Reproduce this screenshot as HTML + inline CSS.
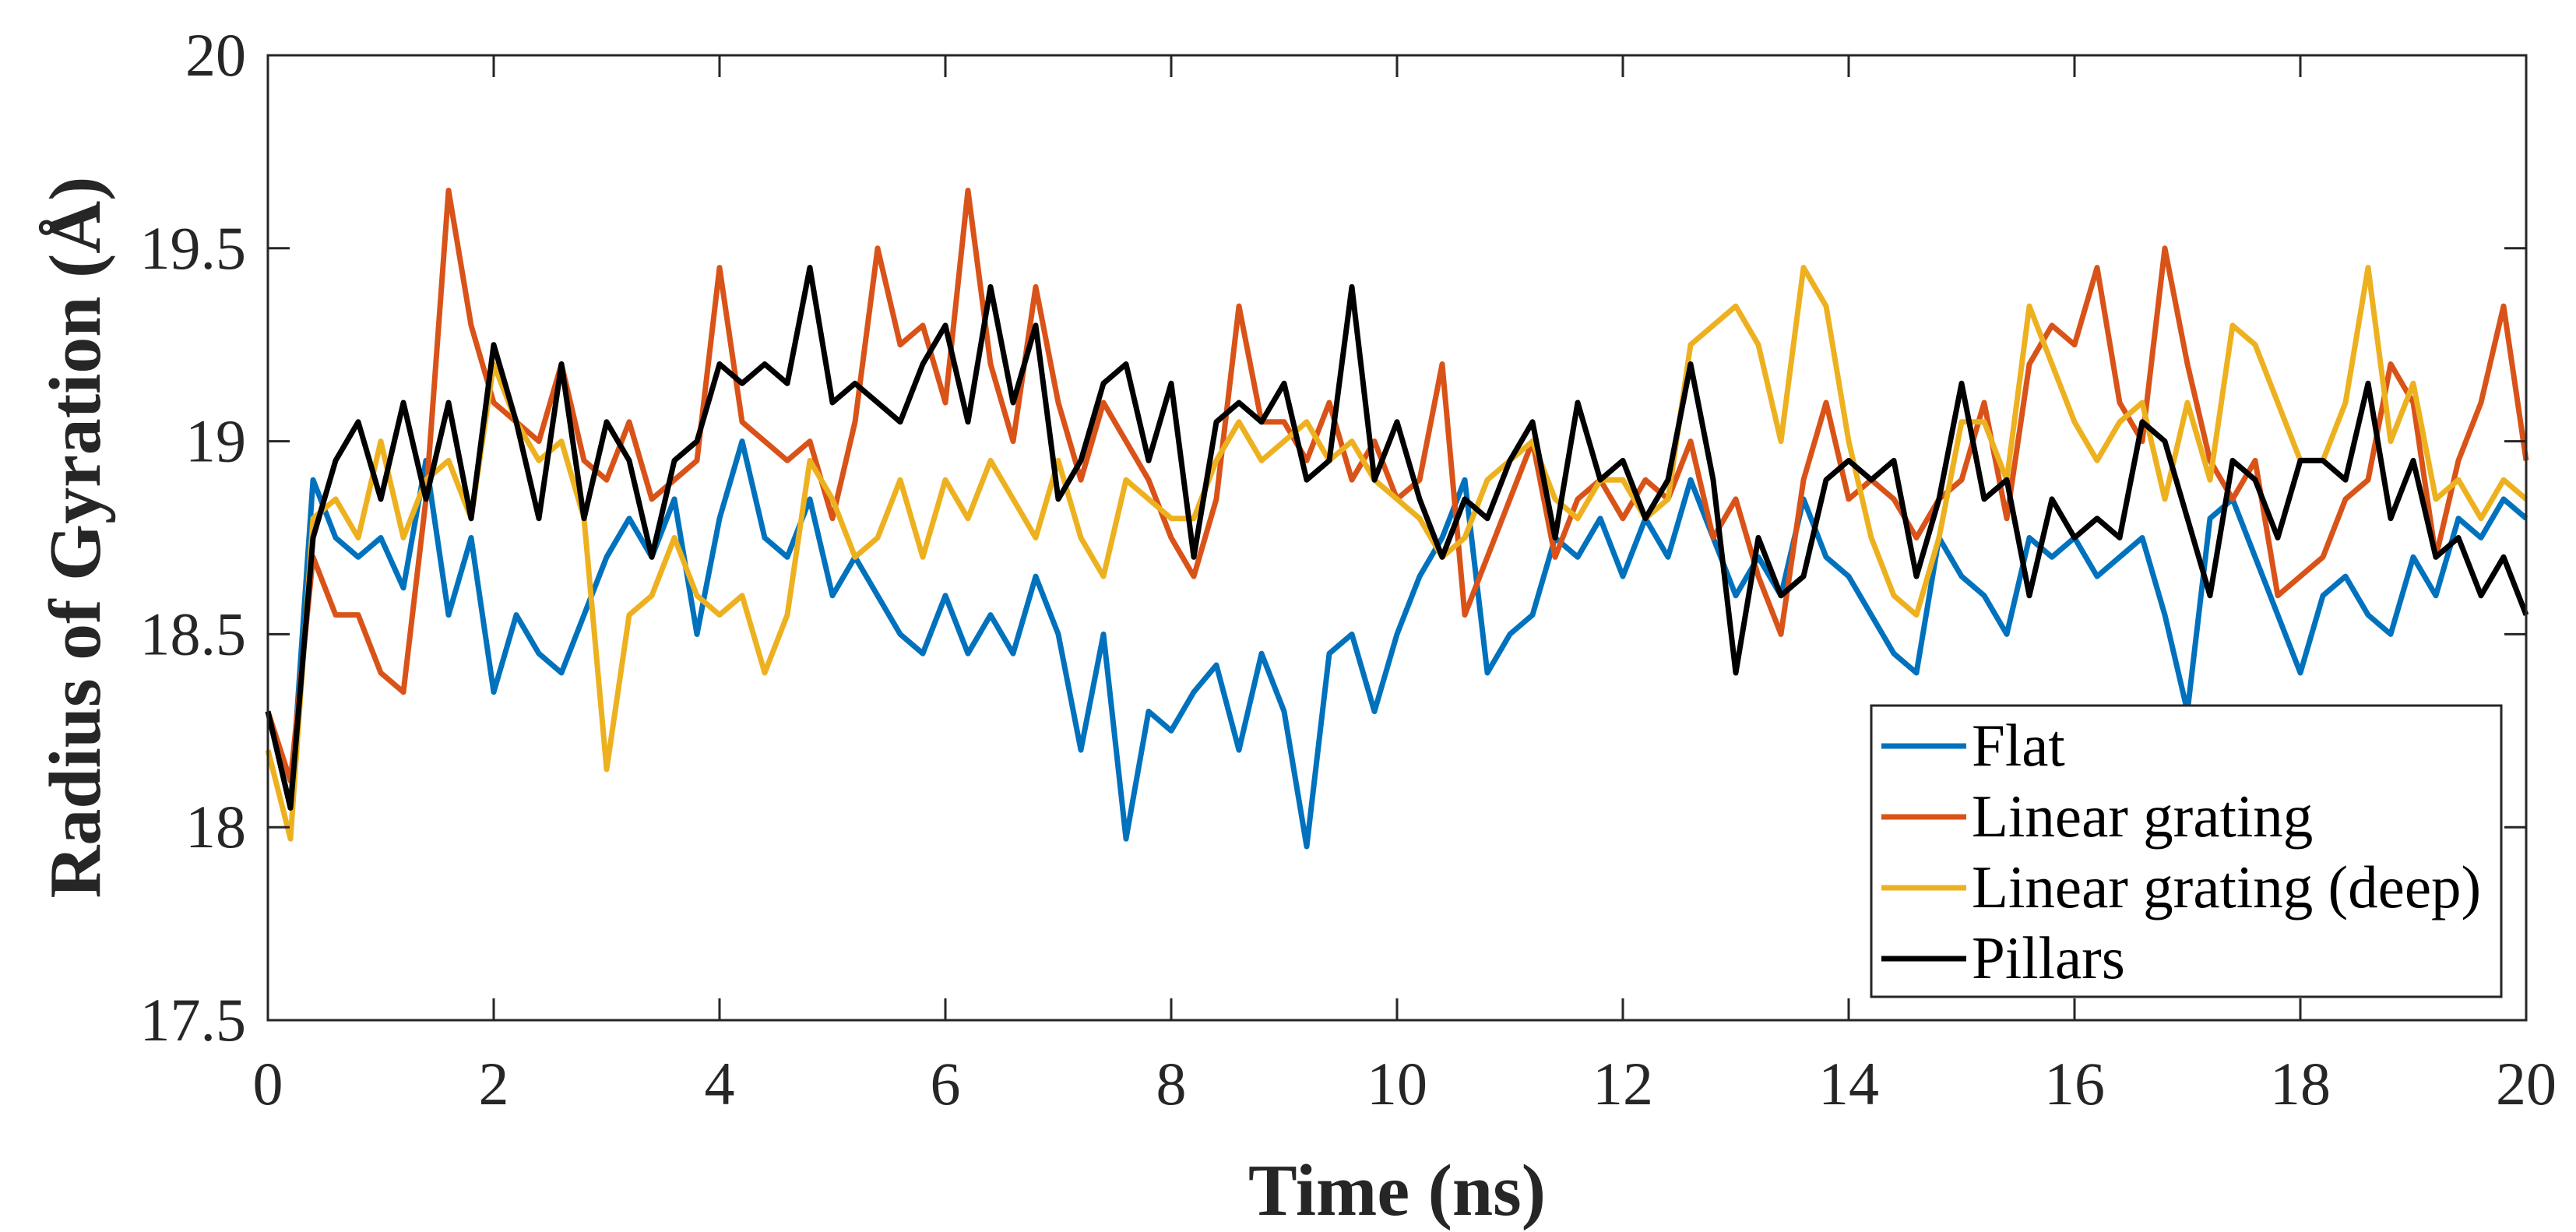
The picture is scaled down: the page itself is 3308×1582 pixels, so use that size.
<!DOCTYPE html>
<html><head><meta charset="utf-8"><style>
html,body{margin:0;padding:0;background:#fff;}
svg{display:block;font-family:"Liberation Serif","Times New Roman",serif;}
</style></head><body>
<svg id="chart" width="3308" height="1582" viewBox="0 0 3308 1582" xmlns="http://www.w3.org/2000/svg">
<rect x="0" y="0" width="3308" height="1582" fill="#fff"/>
<g id="series"></g>
<rect x="344" y="71" width="2900" height="1239" fill="none" stroke="#262626" stroke-width="3"/>
<g id="ticks"></g>
<text transform="translate(128,690) rotate(-90)" text-anchor="middle" font-size="94" font-weight="bold" fill="#262626">Radius of Gyration (Å)</text>
<text x="1794" y="1560" text-anchor="middle" font-size="94" font-weight="bold" fill="#262626">Time (ns)</text>
<g id="legend"></g>
</svg>
<script>
const xTicks = [0,2,4,6,8,10,12,14,16,18,20];
const yTicks = [17.5,18,18.5,19,19.5,20];
const seriesNames = ["Flat","Linear grating","Linear grating (deep)","Pillars"];
const seriesColors = ["#0072BD","#D95319","#EDB120","#000000"];
const timeStep = 0.2;
const flat = [18.3,18.05,18.9,18.75,18.7,18.75,18.62,18.95,18.55,18.75,18.35,18.55,18.45,18.4,18.55,18.7,18.8,18.7,18.85,18.5,18.8,19.0,18.75,18.7,18.85,18.6,18.7,18.6,18.5,18.45,18.6,18.45,18.55,18.45,18.65,18.5,18.2,18.5,17.97,18.3,18.25,18.35,18.42,18.2,18.45,18.3,17.95,18.45,18.5,18.3,18.5,18.65,18.75,18.9,18.4,18.5,18.55,18.75,18.7,18.8,18.65,18.8,18.7,18.9,18.75,18.6,18.7,18.6,18.85,18.7,18.65,18.55,18.45,18.4,18.75,18.65,18.6,18.5,18.75,18.7,18.75,18.65,18.7,18.75,18.55,18.3,18.8,18.85,18.7,18.55,18.4,18.6,18.65,18.55,18.5,18.7,18.6,18.8,18.75,18.85,18.8];
const linearGrating = [18.3,18.12,18.7,18.55,18.55,18.4,18.35,18.85,19.65,19.3,19.1,19.05,19.0,19.2,18.95,18.9,19.05,18.85,18.9,18.95,19.45,19.05,19.0,18.95,19.0,18.8,19.05,19.5,19.25,19.3,19.1,19.65,19.2,19.0,19.4,19.1,18.9,19.1,19.0,18.9,18.75,18.65,18.85,19.35,19.05,19.05,18.95,19.1,18.9,19.0,18.85,18.9,19.2,18.55,18.7,18.85,19.0,18.7,18.85,18.9,18.8,18.9,18.85,19.0,18.75,18.85,18.65,18.5,18.9,19.1,18.85,18.9,18.85,18.75,18.85,18.9,19.1,18.8,19.2,19.3,19.25,19.45,19.1,19.0,19.5,19.2,18.95,18.85,18.95,18.6,18.65,18.7,18.85,18.9,19.2,19.1,18.7,18.95,19.1,19.35,18.95];
const linearGratingDeep = [18.2,17.97,18.8,18.85,18.75,19.0,18.75,18.9,18.95,18.8,19.2,19.05,18.95,19.0,18.8,18.15,18.55,18.6,18.75,18.6,18.55,18.6,18.4,18.55,18.95,18.85,18.7,18.75,18.9,18.7,18.9,18.8,18.95,18.85,18.75,18.95,18.75,18.65,18.9,18.85,18.8,18.8,18.95,19.05,18.95,19.0,19.05,18.95,19.0,18.9,18.85,18.8,18.7,18.75,18.9,18.95,19.0,18.85,18.8,18.9,18.9,18.8,18.85,19.25,19.3,19.35,19.25,19.0,19.45,19.35,19.0,18.75,18.6,18.55,18.75,19.05,19.05,18.9,19.35,19.2,19.05,18.95,19.05,19.1,18.85,19.1,18.9,19.3,19.25,19.1,18.95,18.95,19.1,19.45,19.0,19.15,18.85,18.9,18.8,18.9,18.85];
const pillars = [18.3,18.05,18.75,18.95,19.05,18.85,19.1,18.85,19.1,18.8,19.25,19.05,18.8,19.2,18.8,19.05,18.95,18.7,18.95,19.0,19.2,19.15,19.2,19.15,19.45,19.1,19.15,19.1,19.05,19.2,19.3,19.05,19.4,19.1,19.3,18.85,18.95,19.15,19.2,18.95,19.15,18.7,19.05,19.1,19.05,19.15,18.9,18.95,19.4,18.9,19.05,18.85,18.7,18.85,18.8,18.95,19.05,18.75,19.1,18.9,18.95,18.8,18.9,19.2,18.9,18.4,18.75,18.6,18.65,18.9,18.95,18.9,18.95,18.65,18.85,19.15,18.85,18.9,18.6,18.85,18.75,18.8,18.75,19.05,19.0,18.8,18.6,18.95,18.9,18.75,18.95,18.95,18.9,19.15,18.8,18.95,18.7,18.75,18.6,18.7,18.55];
const allSeries = [flat, linearGrating, linearGratingDeep, pillars];

const NS = "http://www.w3.org/2000/svg";
const X0 = 344, X1 = 3244, Y0 = 1310, Y1 = 71;
function xs(t){ return X0 + (t - 0) / 20 * (X1 - X0); }
function ys(v){ return Y0 - (v - 17.5) / 2.5 * (Y0 - Y1); }
function mk(tag){ return document.createElementNS(NS, tag); }

const seriesG = document.getElementById('series');
const keys = ['flat','linear-grating','linear-grating-deep','pillars'];
allSeries.forEach((vals, i) => {
  const p = mk('polyline');
  p.setAttribute('points', vals.map((v, k) => xs(k * timeStep).toFixed(1) + ',' + ys(v).toFixed(1)).join(' '));
  p.setAttribute('fill', 'none');
  p.setAttribute('stroke', seriesColors[i]);
  p.setAttribute('stroke-width', '7');
  p.setAttribute('stroke-linejoin', 'round');
  
  
  seriesG.appendChild(p);
});

const tickG = document.getElementById('ticks');
xTicks.forEach(t => {
  const x = xs(t);
  [[Y0, Y0 - 28], [Y1, Y1 + 28]].forEach(([a, b]) => {
    const l = mk('line');
    l.setAttribute('x1', x); l.setAttribute('x2', x); l.setAttribute('y1', a); l.setAttribute('y2', b);
    l.setAttribute('stroke', '#262626'); l.setAttribute('stroke-width', '3');
    
    
    tickG.appendChild(l);
  });
  const tx = mk('text');
  tx.setAttribute('x', x); tx.setAttribute('y', 1418);
  tx.setAttribute('text-anchor', 'middle'); tx.setAttribute('font-size', '78'); tx.setAttribute('fill', '#262626');
  tx.textContent = t;
  
  
  tickG.appendChild(tx);
});
yTicks.forEach(v => {
  const y = ys(v);
  [[X0, X0 + 28], [X1, X1 - 28]].forEach(([a, b]) => {
    const l = mk('line');
    l.setAttribute('x1', a); l.setAttribute('x2', b); l.setAttribute('y1', y); l.setAttribute('y2', y);
    l.setAttribute('stroke', '#262626'); l.setAttribute('stroke-width', '3');
    
    
    tickG.appendChild(l);
  });
  const tx = mk('text');
  tx.setAttribute('x', 316); tx.setAttribute('y', y + 26);
  tx.setAttribute('text-anchor', 'end'); tx.setAttribute('font-size', '78'); tx.setAttribute('fill', '#262626');
  tx.textContent = v;
  
  
  tickG.appendChild(tx);
});

const lg = document.getElementById('legend');
const box = mk('rect');
box.setAttribute('x', 2403); box.setAttribute('y', 906); box.setAttribute('width', 809); box.setAttribute('height', 374);
box.setAttribute('fill', '#fff'); box.setAttribute('stroke', '#262626'); box.setAttribute('stroke-width', '3');


lg.appendChild(box);
seriesNames.forEach((n, i) => {
  const cy = 958 + i * 91;
  const l = mk('line');
  l.setAttribute('x1', 2416); l.setAttribute('x2', 2525); l.setAttribute('y1', cy); l.setAttribute('y2', cy);
  l.setAttribute('stroke', seriesColors[i]); l.setAttribute('stroke-width', '7');
  
  
  lg.appendChild(l);
  const t = mk('text');
  t.setAttribute('x', 2532); t.setAttribute('y', cy + 25);
  t.setAttribute('font-size', '77'); t.setAttribute('fill', '#000');
  t.textContent = n;
  
  
  lg.appendChild(t);
});
</script>
</body></html>
